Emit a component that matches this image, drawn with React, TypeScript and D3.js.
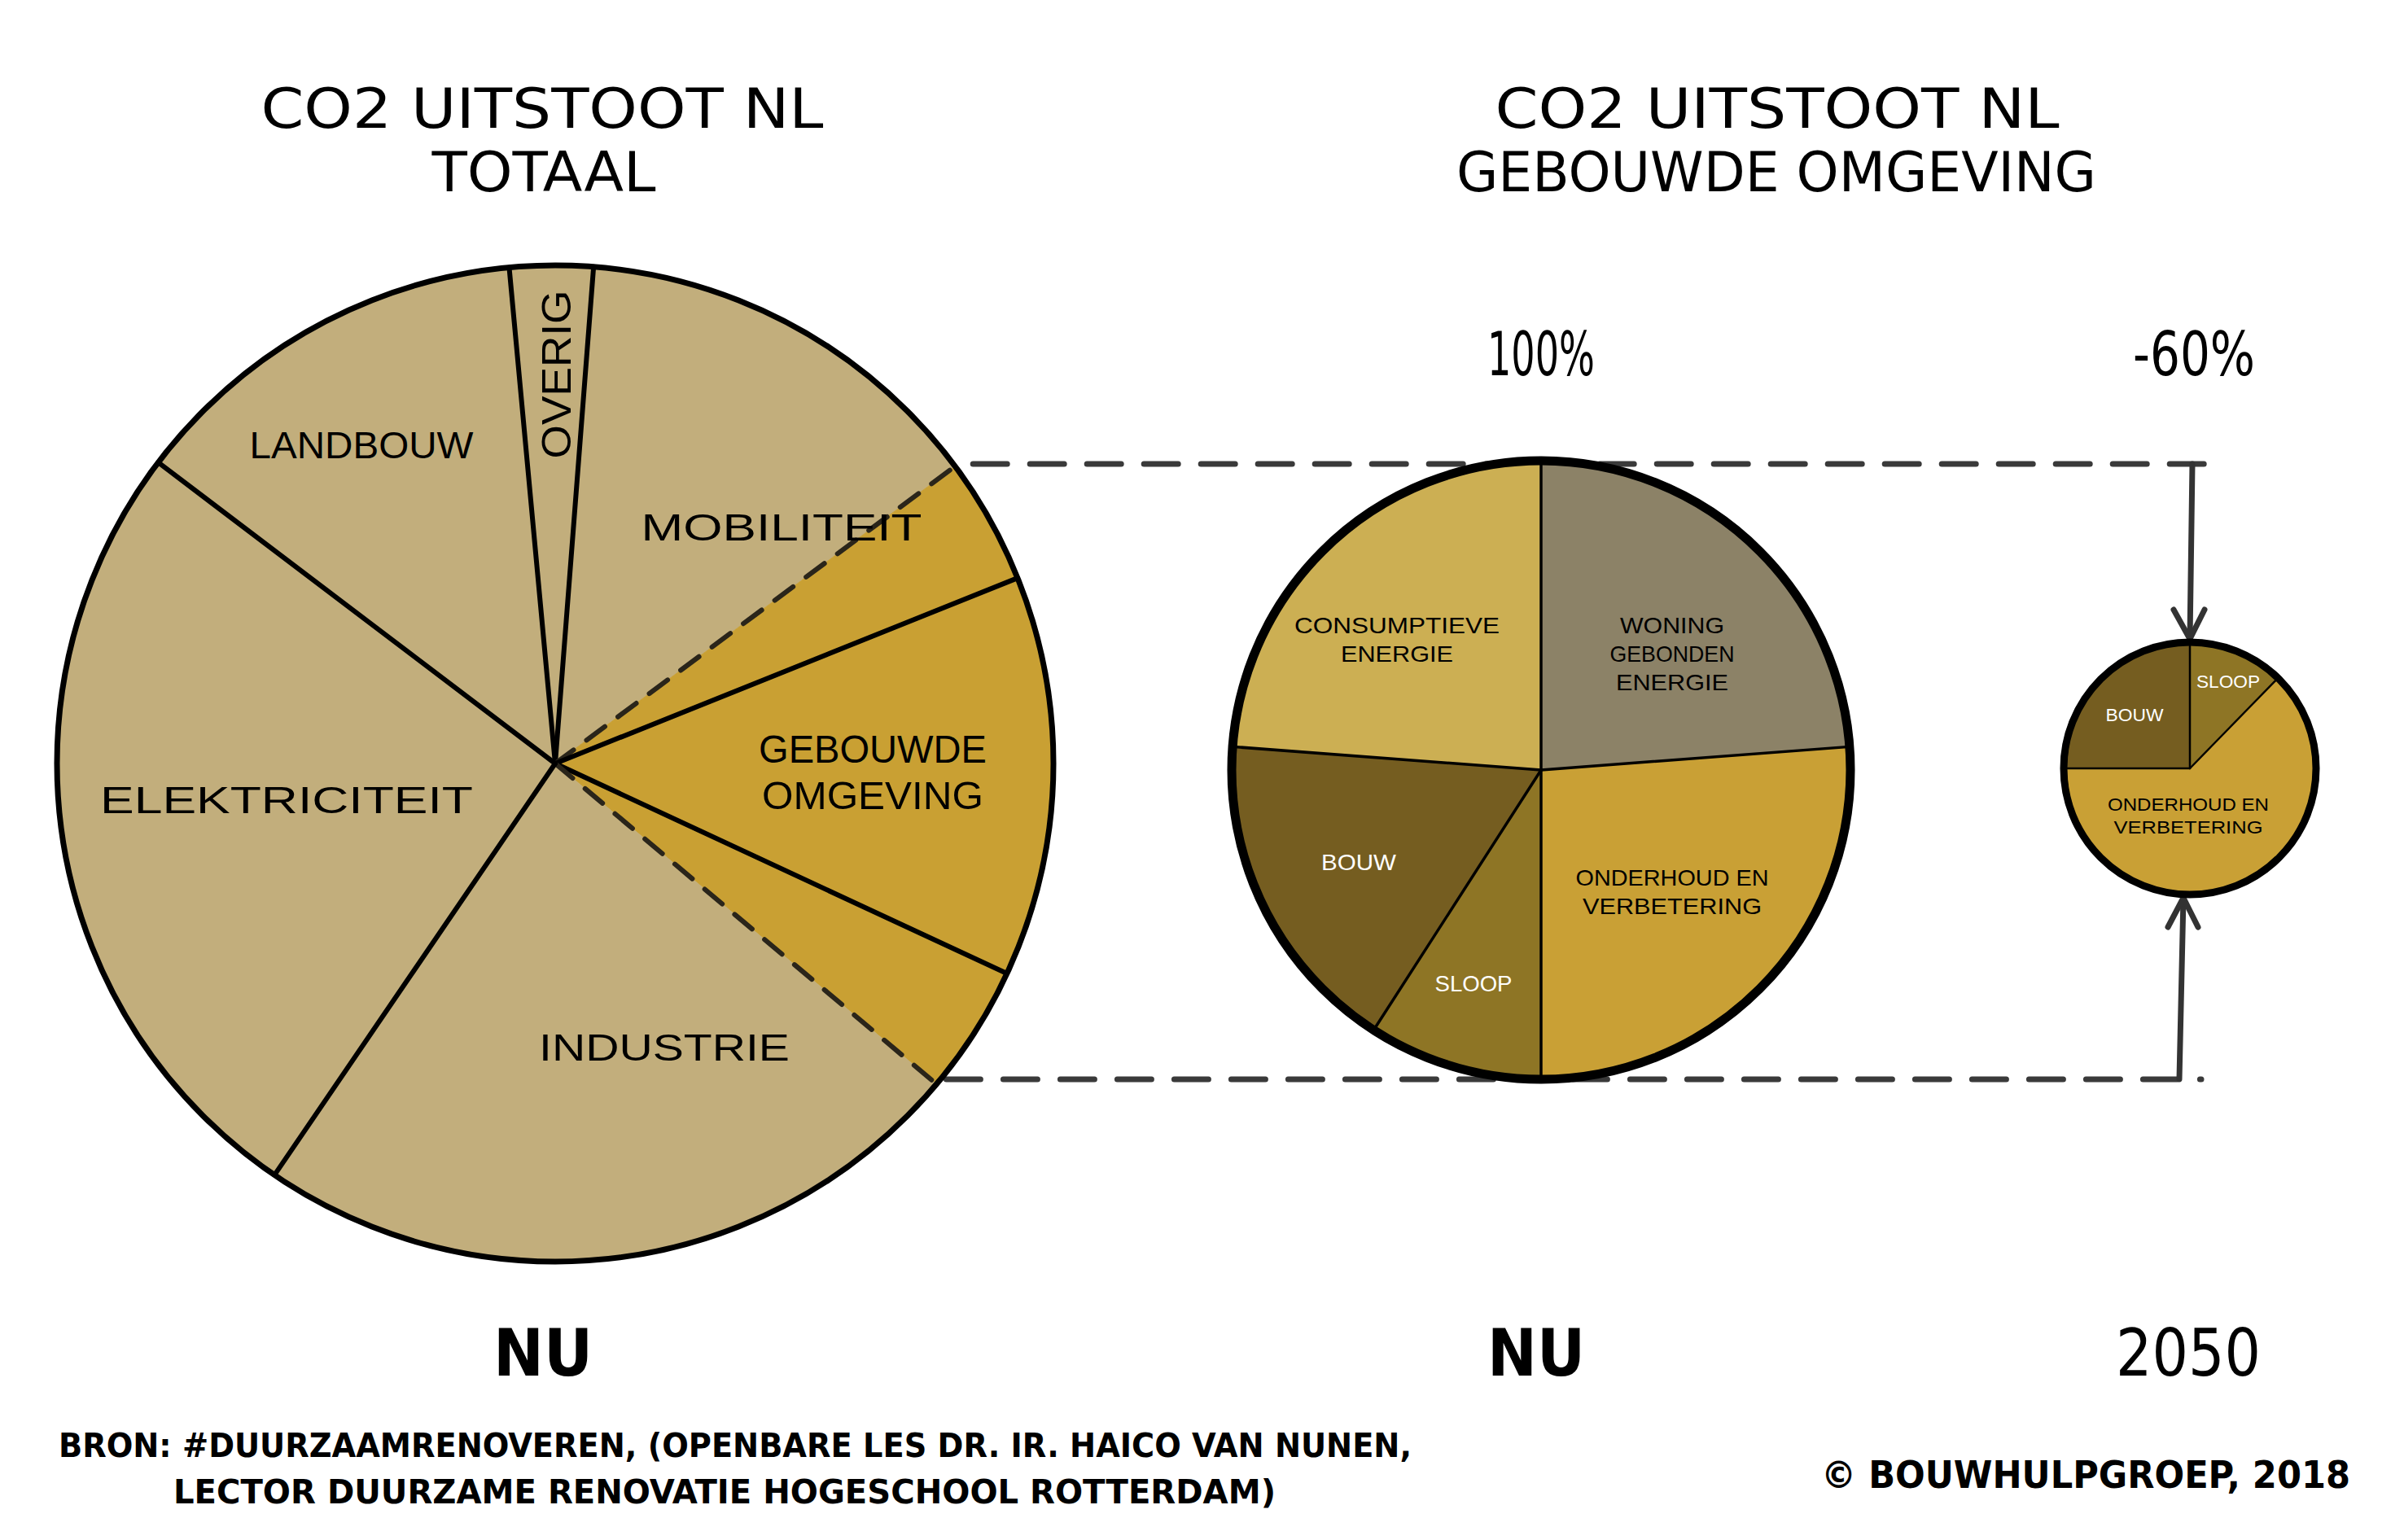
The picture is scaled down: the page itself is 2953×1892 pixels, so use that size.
import React from 'react';
import * as d3 from 'd3';

// ---------------- DATA ----------------
const totalCategories = [
  'OVERIG',
  'MOBILITEIT',
  'MOBILITEIT (GEBOUWDE OMGEVING)',
  'GEBOUWDE OMGEVING',
  'INDUSTRIE (GEBOUWDE OMGEVING)',
  'INDUSTRIE',
  'ELEKTRICITEIT',
  'LANDBOUW',
];
const totalValues = [2.7, 13.6, 4.1, 13.0, 4.2, 23.4, 25.8, 13.2];
const totalIsBuilt = [false, false, true, true, true, false, false, false];
const totalDashedStart = [false, false, true, false, false, true, false, false];

const builtNowCategories = [
  'WONING GEBONDEN ENERGIE',
  'ONDERHOUD EN VERBETERING',
  'SLOOP',
  'BOUW',
  'CONSUMPTIEVE ENERGIE',
];
const builtNowValues = [23.8, 26.2, 9.1, 17.1, 23.8];

const built2050Categories = ['SLOOP', 'ONDERHOUD EN VERBETERING', 'BOUW'];
const built2050Values = [12.3, 62.7, 25.0];

const titleLeft = ['CO2 UITSTOOT NL', 'TOTAAL'];
const titleRight = ['CO2 UITSTOOT NL', 'GEBOUWDE OMGEVING'];
const changeLabels = ['100%', '-60%'];
const periodLabels = ['NU', 'NU', '2050'];
const sourceLines = [
  'BRON: #DUURZAAMRENOVEREN, (OPENBARE LES DR. IR. HAICO VAN NUNEN,',
  'LECTOR DUURZAME RENOVATIE HOGESCHOOL ROTTERDAM)',
];
const copyright = '\u00A9 BOUWHULPGROEP, 2018';

// ---------------- STYLE / LAYOUT ----------------
const W = 2953;
const H = 1892;
const deg = Math.PI / 180;
const FONT = "'Liberation Sans Narrow','DejaVu Sans Condensed','Liberation Sans',sans-serif";
const LABEL_FONT = "'Liberation Sans','DejaVu Sans',sans-serif";

const TAN = '#C2AE7C';
const GOLD = '#C9A033';
const builtColors: Record<string, string> = {
  'WONING GEBONDEN ENERGIE': '#8C8267',
  'ONDERHOUD EN VERBETERING': '#C9A035',
  SLOOP: '#8E7525',
  BOUW: '#755D20',
  'CONSUMPTIEVE ENERGIE': '#CCAF53',
};

const big = { cx: 682, cy: 938, r: 612, start: -5.3 };
const mid = { cx: 1893, cy: 946, r: 380, start: 0 };
const small = { cx: 2690, cy: 944, r: 155, start: 0 };

type Lbl = { lines: string[]; dx: number; dy: number[]; w: number[]; size: number; fill: string; rot?: number };

const bigLabels: Record<string, Lbl> = {
  OVERIG: { lines: ['OVERIG'], dx: 1, dy: [-478], w: [207], size: 50, fill: '#000', rot: -90 },
  LANDBOUW: { lines: ['LANDBOUW'], dx: -238, dy: [-392], w: [275], size: 46, fill: '#000' },
  MOBILITEIT: { lines: ['MOBILITEIT'], dx: 278, dy: [-291], w: [345], size: 46, fill: '#000' },
  'GEBOUWDE OMGEVING': { lines: ['GEBOUWDE', 'OMGEVING'], dx: 390, dy: [-18, 39], w: [280, 272], size: 48, fill: '#000' },
  ELEKTRICITEIT: { lines: ['ELEKTRICITEIT'], dx: -330, dy: [44], w: [458], size: 46, fill: '#000' },
  INDUSTRIE: { lines: ['INDUSTRIE'], dx: 134, dy: [348], w: [308], size: 46, fill: '#000' },
};

const midLabels: Record<string, Lbl> = {
  'CONSUMPTIEVE ENERGIE': { lines: ['CONSUMPTIEVE', 'ENERGIE'], dx: -177, dy: [-178, -143], w: [252, 138], size: 28, fill: '#000' },
  'WONING GEBONDEN ENERGIE': { lines: ['WONING', 'GEBONDEN', 'ENERGIE'], dx: 161, dy: [-178, -143, -108], w: [128, 153, 138], size: 28, fill: '#000' },
  BOUW: { lines: ['BOUW'], dx: -224, dy: [113], w: [92], size: 28, fill: '#fff' },
  SLOOP: { lines: ['SLOOP'], dx: -83, dy: [262], w: [95], size: 28, fill: '#fff' },
  'ONDERHOUD EN VERBETERING': { lines: ['ONDERHOUD EN', 'VERBETERING'], dx: 161, dy: [132, 167], w: [237, 220], size: 28, fill: '#000' },
};

const smallLabels: Record<string, Lbl> = {
  BOUW: { lines: ['BOUW'], dx: -68, dy: [-66], w: [71], size: 22, fill: '#fff' },
  SLOOP: { lines: ['SLOOP'], dx: 47, dy: [-107], w: [78], size: 22, fill: '#fff' },
  'ONDERHOUD EN VERBETERING': { lines: ['ONDERHOUD EN', 'VERBETERING'], dx: -2, dy: [44, 72], w: [198, 183], size: 22, fill: '#000' },
};

function pt(cx: number, cy: number, r: number, a: number): [number, number] {
  return [cx + r * Math.sin(a), cy - r * Math.cos(a)];
}

function Label({ cx, cy, l, family }: { cx: number; cy: number; l: Lbl; family: string }) {
  return (
    <g>
      {l.lines.map((t, i) => {
        const x = cx + l.dx;
        const y = cy + l.dy[i];
        return (
          <text
            key={i}
            x={x}
            y={y}
            dy="0.36em"
            fontFamily={family}
            fontSize={l.size}
            fill={l.fill}
            textAnchor="middle"
            textLength={l.w[i]}
            lengthAdjust="spacingAndGlyphs"
            transform={l.rot ? `rotate(${l.rot} ${x} ${y})` : undefined}
          >
            {t}
          </text>
        );
      })}
    </g>
  );
}

function Txt({ x, y, text, size, width, weight = 'bold', family = FONT }: any) {
  return (
    <text
      x={x}
      y={y}
      dy="0.36em"
      fontFamily={family}
      fontSize={size}
      fontWeight={weight}
      fill="#000"
      textAnchor="middle"
      textLength={width}
      lengthAdjust="spacingAndGlyphs"
    >
      {text}
    </text>
  );
}

function Pie({
  geom,
  values,
  colors,
  dashed,
  outline,
  inner,
}: {
  geom: { cx: number; cy: number; r: number; start: number };
  values: number[];
  colors: string[];
  dashed?: boolean[];
  outline: number;
  inner: number;
}) {
  const s = geom.start * deg;
  const arcs = d3.pie<number>().sort(null).value((d) => d).startAngle(s).endAngle(s + 2 * Math.PI)(values);
  const arc = d3.arc<d3.PieArcDatum<number>>().innerRadius(0).outerRadius(geom.r);
  return (
    <g>
      <g transform={`translate(${geom.cx},${geom.cy})`}>
        {arcs.map((a, i) => (
          <path key={i} d={arc(a) || ''} fill={colors[i]} stroke={colors[i]} strokeWidth={0.8} />
        ))}
      </g>
      {arcs.map((a, i) => {
        const [x2, y2] = pt(geom.cx, geom.cy, geom.r, a.startAngle);
        const isDash = dashed && dashed[i];
        return (
          <line
            key={'l' + i}
            x1={geom.cx}
            y1={geom.cy}
            x2={x2}
            y2={y2}
            stroke={isDash ? '#2A251A' : '#000'}
            strokeWidth={isDash ? 6 : inner}
            strokeDasharray={isDash ? '28 20' : undefined}
            strokeLinecap="round"
          />
        );
      })}
      <circle cx={geom.cx} cy={geom.cy} r={geom.r} fill="none" stroke="#000" strokeWidth={outline} />
    </g>
  );
}

export default function App() {
  const bs = big.start * deg;
  const bigArcs = d3.pie<number>().sort(null).value((d) => d).startAngle(bs).endAngle(bs + 2 * Math.PI)(totalValues);
  const topDash = pt(big.cx, big.cy, big.r, bigArcs[2].startAngle);
  const botDash = pt(big.cx, big.cy, big.r, bigArcs[5].startAngle);
  const yTop = mid.cy - mid.r;
  const yBot = mid.cy + mid.r;
  const arrowX = small.cx;
  const dashEnd = small.cx + 26;
  const hd = { stroke: '#3A3A3A', strokeWidth: 7, strokeDasharray: '42 28', strokeLinecap: 'round' as const };

  const bigColors = totalIsBuilt.map((b) => (b ? GOLD : TAN));

  return (
    <svg width={W} height={H} viewBox={`0 0 ${W} ${H}`} style={{ position: 'absolute', left: 0, top: 0, background: '#fff' }}>
      <rect x={0} y={0} width={W} height={H} fill="#fff" />

      {/* titles */}
      <Txt x={666} y={133} text={titleLeft[0]} size={67} width={691} weight="normal" />
      <Txt x={668} y={211} text={titleLeft[1]} size={67} width={275} weight="normal" />
      <Txt x={2183} y={133} text={titleRight[0]} size={67} width={693} weight="normal" />
      <Txt x={2182} y={211} text={titleRight[1]} size={67} width={786} weight="normal" />

      {/* change labels */}
      <Txt x={1893} y={434} text={changeLabels[0]} size={74} width={132} weight="normal" />
      <Txt x={2695} y={434} text={changeLabels[1]} size={74} width={150} weight="normal" />

      {/* connecting dashed lines */}
      <line x1={topDash[0] + 22} y1={yTop + 4} x2={dashEnd} y2={yTop + 4} {...hd} />
      <line x1={botDash[0] + 12} y1={yBot} x2={dashEnd - 12} y2={yBot} {...hd} />

      {/* arrows */}
      <g stroke="#333" strokeWidth={7} fill="none" strokeLinecap="round" strokeLinejoin="round">
        <line x1={arrowX + 3} y1={yTop + 4} x2={arrowX} y2={small.cy - small.r - 4} />
        <polyline points={`${arrowX - 20},${small.cy - small.r - 40} ${arrowX},${small.cy - small.r - 4} ${arrowX + 18},${small.cy - small.r - 40}`} />
        <line x1={arrowX - 13} y1={yBot} x2={arrowX - 8} y2={small.cy + small.r + 4} />
        <polyline points={`${arrowX - 27},${small.cy + small.r + 40} ${arrowX - 8},${small.cy + small.r + 4} ${arrowX + 10},${small.cy + small.r + 40}`} />
      </g>

      {/* pies */}
      <Pie geom={big} values={totalValues} colors={bigColors} dashed={totalDashedStart} outline={7} inner={6} />
      <Pie geom={mid} values={builtNowValues} colors={builtNowCategories.map((c) => builtColors[c])} outline={11} inner={3.5} />
      <Pie geom={small} values={built2050Values} colors={built2050Categories.map((c) => builtColors[c])} outline={9} inner={2.5} />

      {/* slice labels */}
      {totalCategories.map((c) =>
        bigLabels[c] ? <Label key={c} cx={big.cx} cy={big.cy} l={bigLabels[c]} family={LABEL_FONT} /> : null
      )}
      {builtNowCategories.map((c) => (
        <Label key={'m' + c} cx={mid.cx} cy={mid.cy} l={midLabels[c]} family={LABEL_FONT} />
      ))}
      {built2050Categories.map((c) => (
        <Label key={'s' + c} cx={small.cx} cy={small.cy} l={smallLabels[c]} family={LABEL_FONT} />
      ))}

      {/* period labels */}
      <Txt x={667} y={1661} text={periodLabels[0]} size={80} width={122} />
      <Txt x={1887} y={1661} text={periodLabels[1]} size={80} width={120} />
      <Txt x={2688} y={1661} text={periodLabels[2]} size={80} width={178} weight="normal" />

      {/* source */}
      <text x={72} y={1776} dy="0.36em" fontFamily={FONT} fontSize={40} fontWeight="bold" textLength={1662} lengthAdjust="spacingAndGlyphs">
        {sourceLines[0]}
      </text>
      <text x={213} y={1833} dy="0.36em" fontFamily={FONT} fontSize={40} fontWeight="bold" textLength={1354} lengthAdjust="spacingAndGlyphs">
        {sourceLines[1]}
      </text>
      <text x={2562} y={1811} dy="0.36em" fontFamily={FONT} fontSize={47} fontWeight="bold" textAnchor="middle" textLength={650} lengthAdjust="spacingAndGlyphs">
        {copyright}
      </text>
    </svg>
  );
}
